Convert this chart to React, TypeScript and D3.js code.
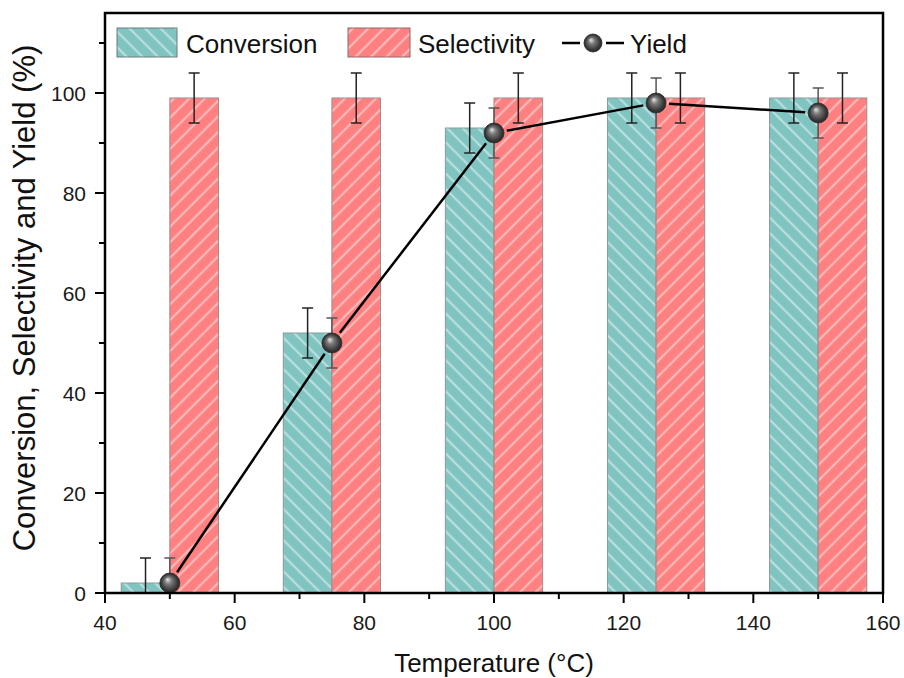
import React from "react";
import { scaleLinear, line } from "d3";

// temperatures (°C)
const temps = [50, 75, 100, 125, 150];
const conversion = [2, 52, 93, 99, 99];
const conversionErr = [5, 5, 5, 5, 5];
const selectivity = [99, 99, 99, 99, 99];
const selectivityErr = [5, 5, 5, 5, 5];
const yieldVals = [2, 50, 92, 98, 96];
const yieldErr = [5, 5, 5, 5, 5];

const xTicks = [40, 60, 80, 100, 120, 140, 160];
const xMinor = [50, 70, 90, 110, 130, 150];
const yTicks = [0, 20, 40, 60, 80, 100];
const yMinor = [10, 30, 50, 70, 90, 110];

const BAR_W = 7.5;
const TEAL = "#80c4c2";
const RED = "#ff8080";
const FONT = "'Liberation Sans', Arial, sans-serif";

function App() {
  const left = 105;
  const right = 883;
  const top = 13;
  const bottom = 593;

  const x = scaleLinear().domain([40, 160]).range([left, right]);
  const y = scaleLinear().domain([0, 116]).range([bottom, top]);

  const R = 10;

  // yield line, shortened near each marker
  const pts = temps.map((t, i) => [x(t), y(yieldVals[i])]);
  const segs = pts.slice(1).map((p, i) => {
    const a = pts[i];
    const dx = p[0] - a[0];
    const dy = p[1] - a[1];
    const len = Math.sqrt(dx * dx + dy * dy);
    const g = R + 3;
    return [
      [a[0] + (dx * g) / len, a[1] + (dy * g) / len],
      [p[0] - (dx * g) / len, p[1] - (dy * g) / len],
    ];
  });
  const lineGen = line();

  const errBar = (cx: number, v: number, e: number, color: string, key: string) => (
    <g key={key} stroke={color} strokeWidth={1.5}>
      <line x1={cx} x2={cx} y1={y(v + e)} y2={y(v - e)} />
      <line x1={cx - 5.5} x2={cx + 5.5} y1={y(v + e)} y2={y(v + e)} />
      <line x1={cx - 5.5} x2={cx + 5.5} y1={y(v - e)} y2={y(v - e)} />
    </g>
  );

  const marker = (cx: number, cy: number, r: number, key: string) => (
    <circle key={key} cx={cx} cy={cy} r={r} fill="url(#ball)" stroke="#2a2a2a" strokeWidth={0.8} />
  );

  return (
    <svg
      width={904}
      height={678}
      style={{ position: "absolute", left: 0, top: 0, background: "#fff" }}
      fontFamily={FONT}
    >
      <defs>
        <pattern id="hatchTeal" patternUnits="userSpaceOnUse" width={11} height={11} patternTransform="rotate(-45)">
          <rect width={11} height={11} fill={TEAL} />
          <line x1={5.5} x2={5.5} y1={0} y2={11} stroke="#fff" strokeOpacity={0.55} strokeWidth={1.8} />
        </pattern>
        <pattern id="hatchRed" patternUnits="userSpaceOnUse" width={11} height={11} patternTransform="rotate(45)">
          <rect width={11} height={11} fill={RED} />
          <line x1={5.5} x2={5.5} y1={0} y2={11} stroke="#fff" strokeOpacity={0.55} strokeWidth={1.8} />
        </pattern>
        <radialGradient id="ball" cx="0.5" cy="0.5" r="0.5" fx="0.38" fy="0.32">
          <stop offset="0" stopColor="#e8e8e8" />
          <stop offset="0.35" stopColor="#7a7a7a" />
          <stop offset="0.8" stopColor="#3a3a3a" />
          <stop offset="1" stopColor="#262626" />
        </radialGradient>
        <clipPath id="plotClip">
          <rect x={left} y={top} width={right - left} height={bottom - top} />
        </clipPath>
      </defs>

      <g clipPath="url(#plotClip)">
        {/* bars */}
        {temps.map((t, i) => (
          <rect
            key={"c" + t}
            x={x(t - BAR_W)}
            y={y(conversion[i])}
            width={x(t) - x(t - BAR_W)}
            height={y(0) - y(conversion[i])}
            fill="url(#hatchTeal)"
            stroke="#8a9a9a"
            strokeWidth={1}
          />
        ))}
        {temps.map((t, i) => (
          <rect
            key={"s" + t}
            x={x(t)}
            y={y(selectivity[i])}
            width={x(t + BAR_W) - x(t)}
            height={y(0) - y(selectivity[i])}
            fill="url(#hatchRed)"
            stroke="#a08a8a"
            strokeWidth={1}
          />
        ))}

        {/* error bars */}
        {temps.map((t, i) => errBar(x(t - BAR_W / 2), conversion[i], conversionErr[i], "#222", "ec" + t))}
        {temps.map((t, i) => errBar(x(t + BAR_W / 2), selectivity[i], selectivityErr[i], "#222", "es" + t))}

        {/* yield line */}
        {segs.map((s, i) => (
          <path key={"l" + i} d={lineGen(s as [number, number][]) || ""} fill="none" stroke="#000" strokeWidth={2.5} />
        ))}
        {temps.map((t, i) => errBar(x(t), yieldVals[i], yieldErr[i], "#555", "ey" + t))}
        {temps.map((t, i) => marker(x(t), y(yieldVals[i]), R, "m" + t))}
      </g>

      {/* frame */}
      <rect x={left} y={top} width={right - left} height={bottom - top} fill="none" stroke="#000" strokeWidth={2.5} />

      {/* x axis ticks */}
      {xTicks.map((t) => (
        <g key={"xt" + t}>
          <line x1={x(t)} x2={x(t)} y1={bottom} y2={bottom + 10} stroke="#000" strokeWidth={2} />
          <text x={x(t)} y={630} textAnchor="middle" fontSize={21} fill="#1a1a1a">
            {t}
          </text>
        </g>
      ))}
      {xMinor.map((t) => (
        <line key={"xm" + t} x1={x(t)} x2={x(t)} y1={bottom} y2={bottom + 6} stroke="#000" strokeWidth={2} />
      ))}

      {/* y axis ticks */}
      {yTicks.map((t) => (
        <g key={"yt" + t}>
          <line x1={left - 10} x2={left} y1={y(t)} y2={y(t)} stroke="#000" strokeWidth={2} />
          <text x={86} y={y(t) + 7.5} textAnchor="end" fontSize={21} fill="#1a1a1a">
            {t}
          </text>
        </g>
      ))}
      {yMinor.map((t) => (
        <line key={"ym" + t} x1={left - 6} x2={left} y1={y(t)} y2={y(t)} stroke="#000" strokeWidth={2} />
      ))}

      {/* axis titles */}
      <text x={x(100)} y={672} textAnchor="middle" fontSize={26} fill="#111">
        Temperature (°C)
      </text>
      <text
        transform={`translate(35, ${298}) rotate(-90)`}
        textAnchor="middle"
        fontSize={31}
        fill="#111"
      >
        Conversion, Selectivity and Yield (%)
      </text>

      {/* legend */}
      <rect x={117} y={28} width={60} height={29} fill="url(#hatchTeal)" stroke="#6a7a7a" strokeWidth={1} />
      <text x={186} y={53} fontSize={26} fill="#111">
        Conversion
      </text>
      <rect x={348} y={28} width={62} height={29} fill="url(#hatchRed)" stroke="#8a6a6a" strokeWidth={1} />
      <text x={418} y={53} fontSize={26} fill="#111">
        Selectivity
      </text>
      <line x1={562} x2={580} y1={43} y2={43} stroke="#000" strokeWidth={2.5} />
      <line x1={606} x2={624} y1={43} y2={43} stroke="#000" strokeWidth={2.5} />
      {marker(593, 43, 9, "legm")}
      <text x={630} y={53} fontSize={26} fill="#111">
        Yield
      </text>
    </svg>
  );
}

export default App;
